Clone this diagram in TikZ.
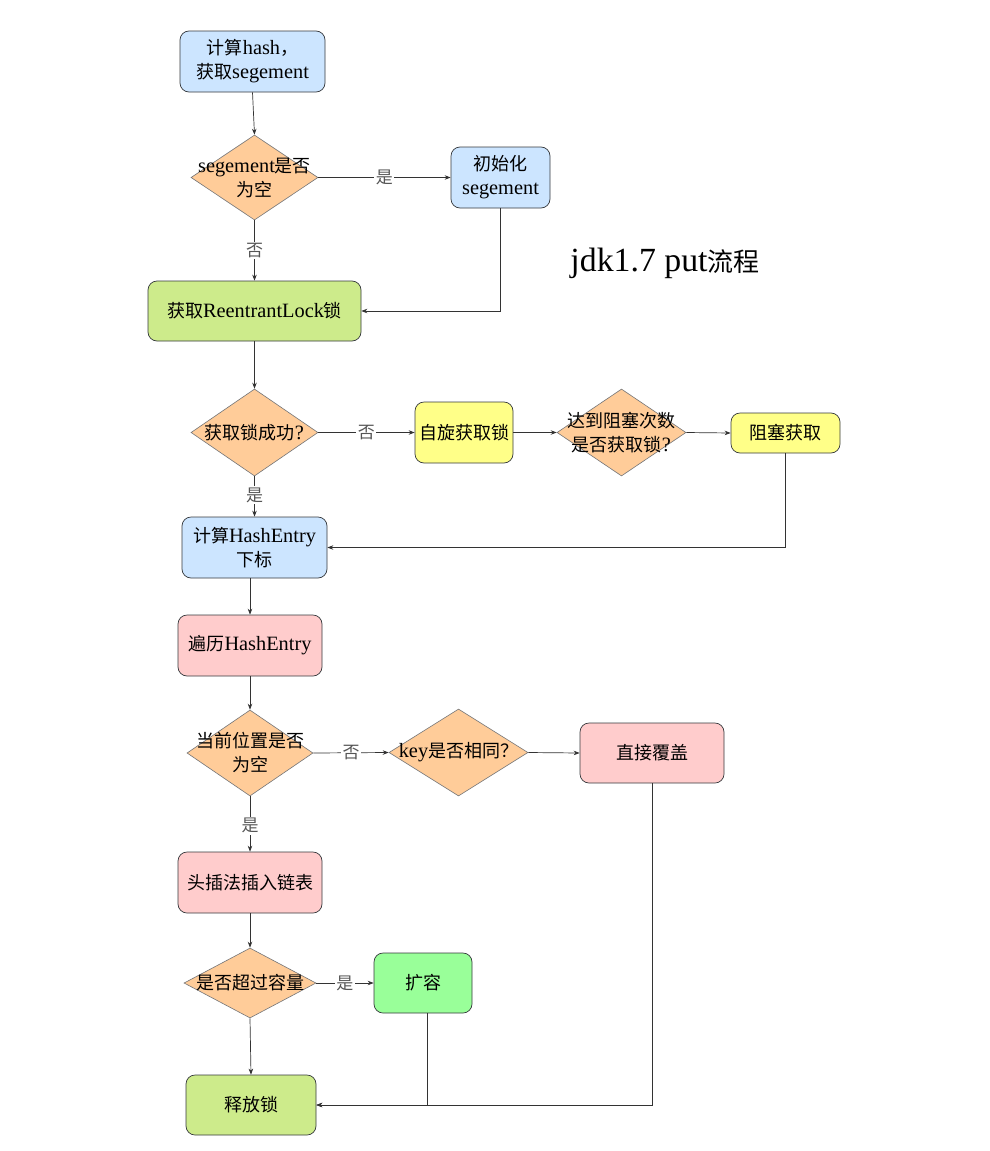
\documentclass[tikz,border=0pt]{standalone}
\usepackage{fontspec}
\setmainfont{Noto Sans CJK SC}
\newfontfamily\lat{Liberation Serif}[Scale=1.13]
\newfontfamily\tlat{Liberation Serif}[Scale=1.3]
\usetikzlibrary{shapes.geometric,arrows.meta}
\definecolor{cblue}{HTML}{CCE5FF}
\definecolor{corange}{HTML}{FFCC99}
\definecolor{clgreen}{HTML}{CDEB8B}
\definecolor{cyellow}{HTML}{FFFF88}
\definecolor{cpink}{HTML}{FFCCCC}
\definecolor{cbgreen}{HTML}{99FF99}
\definecolor{cstroke}{HTML}{36393D}
\definecolor{cline}{HTML}{333333}
\definecolor{clbl}{HTML}{555555}
\begin{document}
\begin{tikzpicture}[x=1pt,y=-1pt,
  box/.style={draw=cstroke, line width=0.7pt, rounded corners=9pt, align=center,
    inner sep=0pt, font=\fontsize{18}{24}\selectfont},
  dia/.style={diamond, draw=cstroke!70, line width=0.6pt, fill=corange, inner sep=0pt, aspect=1.5},
  dtext/.style={align=center, inner sep=0pt, font=\fontsize{18}{24}\selectfont},
  arr/.style={draw=cline, line width=0.7pt, -{Stealth[length=6pt,width=4.5pt]}},
  lbl/.style={fill=white, inner sep=1.5pt, text=clbl, font=\fontsize{17}{19}\selectfont}
]
\useasboundingbox (0,0) rectangle (990,1151);
\fill[white] (0,0) rectangle (990,1151);

% nodes
\node[box, fill=cblue, minimum width=145pt, minimum height=61pt] (n1) at (252.5,61.5) {计算{\lat hash}，\\获取{\lat segement}};
\node[dia, minimum width=127pt, minimum height=85pt] (d1) at (254.5,177.5) {};
\node[dtext] (d1t) at (d1.center) {{\lat segement}是否\\为空};
\node[box, fill=cblue, minimum width=99pt, minimum height=61pt] (init) at (500.5,177.5) {初始化\\{\lat segement}};
\node[box, fill=clgreen, minimum width=213pt, minimum height=60pt] (lock) at (254.5,311) {获取{\lat ReentrantLock}锁};
\node[font=\fontsize{26}{30}\selectfont, inner sep=0pt] (title) at (665,263) {{\tlat jdk1.7 put}流程};

\node[dia, minimum width=127pt, minimum height=87pt] (d2) at (254.5,432.5) {};
\node[dtext] (d2t) at (d2.center) {获取锁成功{\lat ?}};
\node[box, fill=cyellow, minimum width=98pt, minimum height=61pt] (spin) at (464,432.5) {自旋获取锁};
\node[dia, minimum width=129pt, minimum height=87pt] (d3) at (621.5,432.5) {};
\node[dtext] (d3t) at (d3.center) {达到阻塞次数\\是否获取锁{\lat ?}};
\node[box, fill=cyellow, minimum width=109pt, minimum height=40pt] (blk) at (785.5,433) {阻塞获取};

\node[box, fill=cblue, minimum width=145pt, minimum height=61pt] (he) at (254.5,547.5) {计算{\lat HashEntry}\\下标};
\node[box, fill=cpink, minimum width=144pt, minimum height=61pt] (trav) at (250,645.5) {遍历{\lat HashEntry}};

\node[dia, minimum width=126pt, minimum height=86pt] (d4) at (250,753) {};
\node[dtext] (d4t) at (d4.center) {当前位置是否\\为空};
\node[dia, minimum width=139pt, minimum height=87pt] (d5) at (458.5,752.5) {};
\node[dtext] (d5t) at (d5.center) {{\lat key}是否相同？};
\node[box, fill=cpink, minimum width=144pt, minimum height=60pt] (over) at (652,753) {直接覆盖};

\node[box, fill=cpink, minimum width=144pt, minimum height=61pt] (head) at (250,882.5) {头插法插入链表};
\node[dia, minimum width=132pt, minimum height=70pt] (d6) at (250,983) {};
\node[dtext] (d6t) at (d6.center) {是否超过容量};
\node[box, fill=cbgreen, minimum width=98pt, minimum height=60pt] (exp) at (423,983) {扩容};
\node[box, fill=clgreen, minimum width=130pt, minimum height=60pt] (rel) at (251,1105) {释放锁};

% connectors
\draw[arr] (n1.south) -- (d1.north);
\draw[arr] (d1.east) -- node[lbl] (l1) {是} (init.west);
\draw[arr] (d1.south) -- node[lbl] (l2) {否} (lock.north);
\draw[arr] (init.south) |- (lock.east);
\draw[arr] (lock.south) -- (d2.north);
\draw[arr] (d2.east) -- node[lbl] (l3) {否} (spin.west);
\draw[arr] (spin.east) -- (d3.west);
\draw[arr] (d3.east) -- (blk.west);
\draw[arr] (blk.south) |- (he.east);
\draw[arr] (d2.south) -- node[lbl, pos=0.47] (l4) {是} (he.north);
\draw[arr] (he.south -| trav.north) -- (trav.north);
\draw[arr] (trav.south) -- (d4.north);
\draw[arr] (d4.east) -- node[lbl] (l5) {否} (d5.west);
\draw[arr] (d5.east) -- (over.west);
\draw[arr] (d4.south) -- node[lbl, pos=0.53] (l6) {是} (head.north);
\draw[arr] (head.south) -- (d6.north);
\draw[arr] (d6.east) -- node[lbl] (l7) {是} (exp.west);
\draw[arr] (d6.south) -- (rel.north);
\draw[arr] ([xshift=4pt]exp.south) |- (rel.east);
\draw[arr] (over.south) |- (rel.east);
\end{tikzpicture}
\end{document}
